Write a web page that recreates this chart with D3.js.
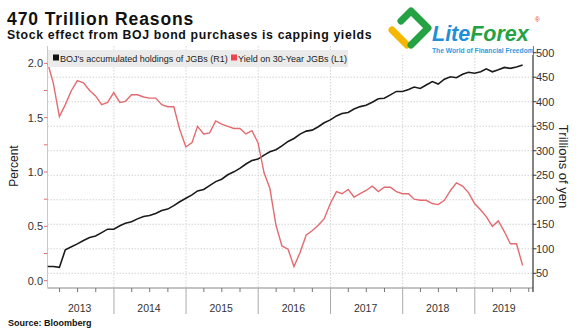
<!DOCTYPE html>
<html>
<head>
<meta charset="utf-8">
<script src="https://cdn.jsdelivr.net/npm/d3@7"></script>
<style>
  body { margin: 0; background: #fff; }
  svg { display: block; font-family: "Liberation Sans", Arial, sans-serif; }
  .grid line { stroke: #d4d4d4; stroke-dasharray: 1.5 1.5; }
  .tick-lbl { font-size: 11px; fill: #333; }
</style>
</head>
<body>
<svg id="chart"></svg>
<script>
// month-end observations, Jan 2013 .. Aug 2019
const startYear = 2013;
const yieldPct = [
  2.00, 1.82, 1.51, 1.62, 1.75, 1.84, 1.82, 1.75, 1.70, 1.62,
  1.64, 1.73, 1.64, 1.65, 1.71, 1.71, 1.69, 1.68, 1.68, 1.62,
  1.60, 1.60, 1.39, 1.23, 1.27, 1.42, 1.35, 1.36, 1.47, 1.44,
  1.42, 1.40, 1.40, 1.35, 1.38, 1.27, 0.99, 0.85, 0.51, 0.32,
  0.29, 0.13, 0.26, 0.42, 0.46, 0.51, 0.57, 0.71, 0.82, 0.80,
  0.84, 0.77, 0.80, 0.83, 0.87, 0.82, 0.86, 0.86, 0.82, 0.80,
  0.80, 0.75, 0.74, 0.74, 0.71, 0.70, 0.74, 0.83, 0.90, 0.87,
  0.81, 0.71, 0.65, 0.59, 0.50, 0.55, 0.45, 0.34, 0.34, 0.14
];
const holdings = [
  64, 64, 62, 98, 104, 110, 117, 123, 126, 133,
  140, 140, 147, 152, 155, 161, 166, 168, 172, 178,
  181, 188, 196, 203, 210, 218, 221, 229, 237, 242,
  251, 257, 264, 273, 280, 283, 291, 298, 302, 310,
  319, 325, 334, 340, 342, 349, 357, 363, 371, 376,
  378, 385, 390, 393, 399, 406, 407, 414, 421, 421,
  425, 430, 427, 434, 441, 436, 446, 451, 449, 456,
  460, 458, 461, 467, 461, 465, 470, 468, 471, 475
];
const years = [2013, 2014, 2015, 2016, 2017, 2018, 2019];
const leftTicks = [0, 0.5, 1.0, 1.5, 2.0];
const rightTicks = [50, 100, 150, 200, 250, 300, 350, 400, 450, 500];

const dates = yieldPct.map((_, i) => new Date(startYear, i + 1, 0));

const W = 581, H = 331;
const plot = { left: 47.5, right: 533, top: 46, bottom: 288 };
const redC = '#e36b6f', blackC = '#1a1a1a';

const svg = d3.select('#chart').attr('width', W).attr('height', H);

const x = d3.scaleTime()
  .domain([new Date(2013, 0, 1), new Date(2019, 0, 1)])
  .range([41.8, 474.8]);
const yL = d3.scaleLinear().domain([0, 2]).range([280.7, 63.3]);
const yR = d3.scaleLinear().domain([20, 500]).range([288, 52.7]);

// grid
const grid = svg.append('g').attr('class', 'grid');
rightTicks.filter(t => t < 500).forEach(t => {
  grid.append('line').attr('x1', plot.left).attr('x2', plot.right)
    .attr('y1', yR(t)).attr('y2', yR(t));
});
years.slice(1).forEach(yr => {
  const xx = x(new Date(yr, 0, 1));
  grid.append('line').attr('x1', xx).attr('x2', xx)
    .attr('y1', plot.top).attr('y2', plot.bottom);
});

// x axis
svg.append('line').attr('x1', plot.left).attr('x2', plot.right)
  .attr('y1', plot.bottom).attr('y2', plot.bottom).attr('stroke', '#888');
d3.timeMonth.every(3).range(new Date(2013, 3, 1), new Date(2019, 10, 1)).forEach(d => {
  const xx = x(d);
  if (xx > plot.right) return;
  const isYear = d.getMonth() === 0;
  svg.append('line').attr('x1', xx).attr('x2', xx)
    .attr('y1', plot.bottom).attr('y2', plot.bottom + (isYear ? 26 : 4))
    .attr('stroke', isYear ? '#aaa' : '#777');
});
years.forEach(yr => {
  const a = Math.max(x(new Date(yr, 0, 1)), plot.left);
  const b = Math.min(x(new Date(yr + 1, 0, 1)), 533);
  svg.append('text').attr('class', 'tick-lbl').attr('x', (a + b) / 2 - (yr === 2019 ? 0 : 1))
    .attr('y', 312).attr('text-anchor', 'middle').style('font-size', '10.5px').text(yr);
});

// left axis
svg.append('line').attr('x1', plot.left).attr('x2', plot.left)
  .attr('y1', plot.top).attr('y2', plot.bottom).attr('stroke', '#f2b8b8');
d3.range(0, 2.01, 0.25).forEach(t => {
  svg.append('line').attr('x1', plot.left - 3.5).attr('x2', plot.left)
    .attr('y1', yL(t)).attr('y2', yL(t)).attr('stroke', redC);
});
leftTicks.forEach(t => {
  svg.append('text').attr('class', 'tick-lbl').attr('x', 43).attr('y', yL(t) + 4)
    .attr('text-anchor', 'end').text(t.toFixed(1));
});
svg.append('text').attr('transform', 'translate(18,166) rotate(-90)')
  .attr('text-anchor', 'middle').style('font-size', '12px').attr('fill', '#222').text('Percent');

// right axis
svg.append('line').attr('x1', plot.right).attr('x2', plot.right)
  .attr('y1', plot.top).attr('y2', plot.bottom + 4).attr('stroke', '#333').attr('stroke-width', 1.2);
rightTicks.forEach(t => {
  svg.append('line').attr('x1', plot.right).attr('x2', plot.right + 3.5)
    .attr('y1', yR(t)).attr('y2', yR(t)).attr('stroke', '#333');
  svg.append('text').attr('class', 'tick-lbl').attr('x', 536).attr('y', yR(t) + 4).text(t);
});
svg.append('text').attr('transform', 'translate(559,166.5) rotate(90)')
  .attr('text-anchor', 'middle').style('font-size', '13px').attr('fill', '#222').text('Trillions of yen');

// lines
const lineR = d3.line().x((d, i) => x(dates[i])).y(d => yR(d));
const lineL = d3.line().x((d, i) => x(dates[i])).y(d => yL(d));
svg.append('path').datum(holdings).attr('d', lineR)
  .attr('fill', 'none').attr('stroke', blackC).attr('stroke-width', 1.6);
svg.append('path').datum(yieldPct).attr('d', lineL)
  .attr('fill', 'none').attr('stroke', redC).attr('stroke-width', 1.4);

// legend
const lg = svg.append('g');
lg.append('rect').attr('x', 48).attr('y', 50).attr('width', 300).attr('height', 17).attr('fill', '#ebebeb');
lg.append('rect').attr('x', 53).attr('y', 54.5).attr('width', 6).attr('height', 6).attr('fill', '#111');
lg.append('text').attr('x', 60).attr('y', 62).style('font-size', '9px').attr('fill', '#222')
  .text("BOJ's accumulated holdings of JGBs (R1)");
lg.append('rect').attr('x', 231).attr('y', 54.5).attr('width', 6).attr('height', 6).attr('fill', '#ee4452');
lg.append('text').attr('x', 238).attr('y', 62).style('font-size', '9px').attr('fill', '#222')
  .text('Yield on 30-Year JGBs (L1)');

// titles
svg.append('text').attr('x', 7).attr('y', 24.5).style('font-size', '17.5px').style('font-weight', 'bold')
  .style('letter-spacing', '0.9px').attr('fill', '#111').text('470 Trillion Reasons');
svg.append('text').attr('x', 7).attr('y', 39).style('font-size', '12.3px').style('font-weight', 'bold')
  .style('letter-spacing', '0.65px').attr('fill', '#111').text('Stock effect from BOJ bond purchases is capping yields');
svg.append('text').attr('x', 8).attr('y', 326).style('font-size', '9px').style('font-weight', 'bold')
  .attr('fill', '#111').text('Source: Bloomberg');

// watermark logo
const logo = svg.append('g');
logo.append('rect').attr('x', 386).attr('y', 5).attr('width', 147).attr('height', 50).attr('fill', '#fff').attr('opacity', 0.9);
logo.append('path').attr('d', 'M392,30 L407,45').attr('stroke', '#f5b800').attr('stroke-width', 7)
  .attr('stroke-linecap', 'round').attr('fill', 'none');
logo.append('path').attr('d', 'M401,21 L411,11 L428,28 L411,45').attr('stroke', '#25a244').attr('stroke-width', 7)
  .attr('stroke-linejoin', 'round').attr('stroke-linecap', 'round').attr('fill', 'none');
const lt = logo.append('text').attr('x', 432).attr('y', 41).style('font-size', '21.5px')
  .style('font-weight', 'bold').style('font-style', 'italic');
lt.append('tspan').attr('fill', '#1f8fd8').text('Lite');
lt.append('tspan').attr('fill', '#25a244').text('Forex');
logo.append('text').attr('x', 535).attr('y', 22).style('font-size', '6.5px').attr('fill', '#e33').text('®');
logo.append('text').attr('x', 432).attr('y', 52.5).style('font-size', '6.7px').style('font-weight', 'bold')
  .attr('fill', '#2b9be0').text('The World of Financial Freedom');
</script>
</body>
</html>
